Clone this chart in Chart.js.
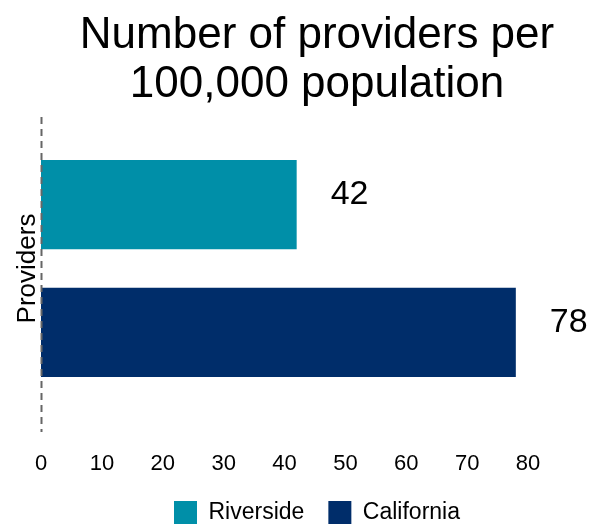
<!DOCTYPE html>
<html>
<head>
<meta charset="utf-8">
<script src="https://cdn.jsdelivr.net/npm/chart.js@4"></script>
<style>
  body { margin: 0; background: #fff; }
  #wrap { width: 593px; height: 525px; }
</style>
</head>
<body>
<div id="wrap"><canvas id="barChart"></canvas></div>
<script>
let categorias = ["Providers"];
let series = ["Riverside", "California"];
let valoresRiverside = [42];
let valoresCalifornia = [78];
let ticksX = [0, 10, 20, 30, 40, 50, 60, 70, 80];
let titulo = ["Number of providers per", "100,000 population"];
let tituloEjeY = "Providers";

let colores = ["#008FA8", "#002D6A"];
let fuente = "Liberation Sans, Arial, sans-serif";

Chart.defaults.font.family = fuente;
Chart.defaults.color = "#000";

// titulo centrado sobre el area de la grafica y titulo vertical del eje y
let titulos = {
    id: "titulos",
    beforeDraw(chart) {
        let ctx = chart.ctx;
        let area = chart.chartArea;
        let cx = (area.left + chart.width) / 2;
        ctx.save();
        ctx.fillStyle = "#000";
        ctx.font = "44px " + fuente;
        ctx.textAlign = "center";
        ctx.textBaseline = "alphabetic";
        titulo.forEach(function (linea, i) {
            ctx.fillText(linea, cx, 48 + i * 49);
        });
        ctx.font = "26px " + fuente;
        ctx.translate(area.left - 6, (area.top + area.bottom) / 2);
        ctx.rotate(-Math.PI / 2);
        ctx.fillText(tituloEjeY, 0, 0);
        ctx.restore();
    }
};

// linea punteada en x = 0
let lineaCero = {
    id: "lineaCero",
    afterDatasetsDraw(chart) {
        let ctx = chart.ctx;
        let x = Math.round(chart.scales.x.getPixelForValue(0)) + 0.5;
        ctx.save();
        ctx.strokeStyle = "#666";
        ctx.lineWidth = 2;
        ctx.setLineDash([7, 5]);
        ctx.beginPath();
        ctx.moveTo(x, chart.chartArea.top + 12);
        ctx.lineTo(x, chart.chartArea.bottom);
        ctx.stroke();
        ctx.restore();
    }
};

// etiquetas de valor a la derecha de cada barra
let etiquetasValor = {
    id: "etiquetasValor",
    afterDatasetsDraw(chart) {
        let ctx = chart.ctx;
        ctx.save();
        ctx.font = "34px " + fuente;
        ctx.fillStyle = "#000";
        ctx.textAlign = "left";
        ctx.textBaseline = "middle";
        chart.data.datasets.forEach(function (ds, i) {
            chart.getDatasetMeta(i).data.forEach(function (bar, j) {
                ctx.fillText(ds.data[j], bar.x + 34, bar.y - 10);
            });
        });
        ctx.restore();
    }
};

let ctx = document.getElementById("barChart").getContext("2d");
let myBarChart = new Chart(ctx, {
    type: "bar",
    data: {
        labels: categorias,
        datasets: [
            {
                label: series[0],
                data: valoresRiverside,
                backgroundColor: colores[0]
            },
            {
                label: series[1],
                data: valoresCalifornia,
                backgroundColor: colores[1]
            }
        ]
    },
    options: {
        indexAxis: "y",
        responsive: true,
        maintainAspectRatio: false,
        animation: false,
        categoryPercentage: 0.78,
        barPercentage: 0.7,
        layout: { padding: { top: 105, left: 41, right: 0, bottom: -9 } },
        scales: {
            x: {
                min: 0,
                max: 80,
                afterBuildTicks: function (scale) {
                    scale.ticks = ticksX.map(function (v) { return { value: v }; });
                },
                grid: { display: false, drawTicks: false },
                border: { display: false },
                ticks: { font: { size: 22 }, padding: 19, maxRotation: 0 },
                afterFit: function (scale) { scale.height = 45; }
            },
            y: {
                display: false
            },
            derecha: {
                axis: "y",
                position: "right",
                grid: { display: false, drawTicks: false },
                border: { display: false },
                ticks: { display: false },
                afterFit: function (scale) { scale.width = 65; }
            }
        },
        plugins: {
            title: { display: false },
            legend: {
                position: "bottom",
                labels: {
                    font: { size: 23 },
                    boxWidth: 23,
                    boxHeight: 23,
                    padding: 24
                }
            },
            tooltip: { enabled: false }
        }
    },
    plugins: [titulos, lineaCero, etiquetasValor]
});
</script>
</body>
</html>
